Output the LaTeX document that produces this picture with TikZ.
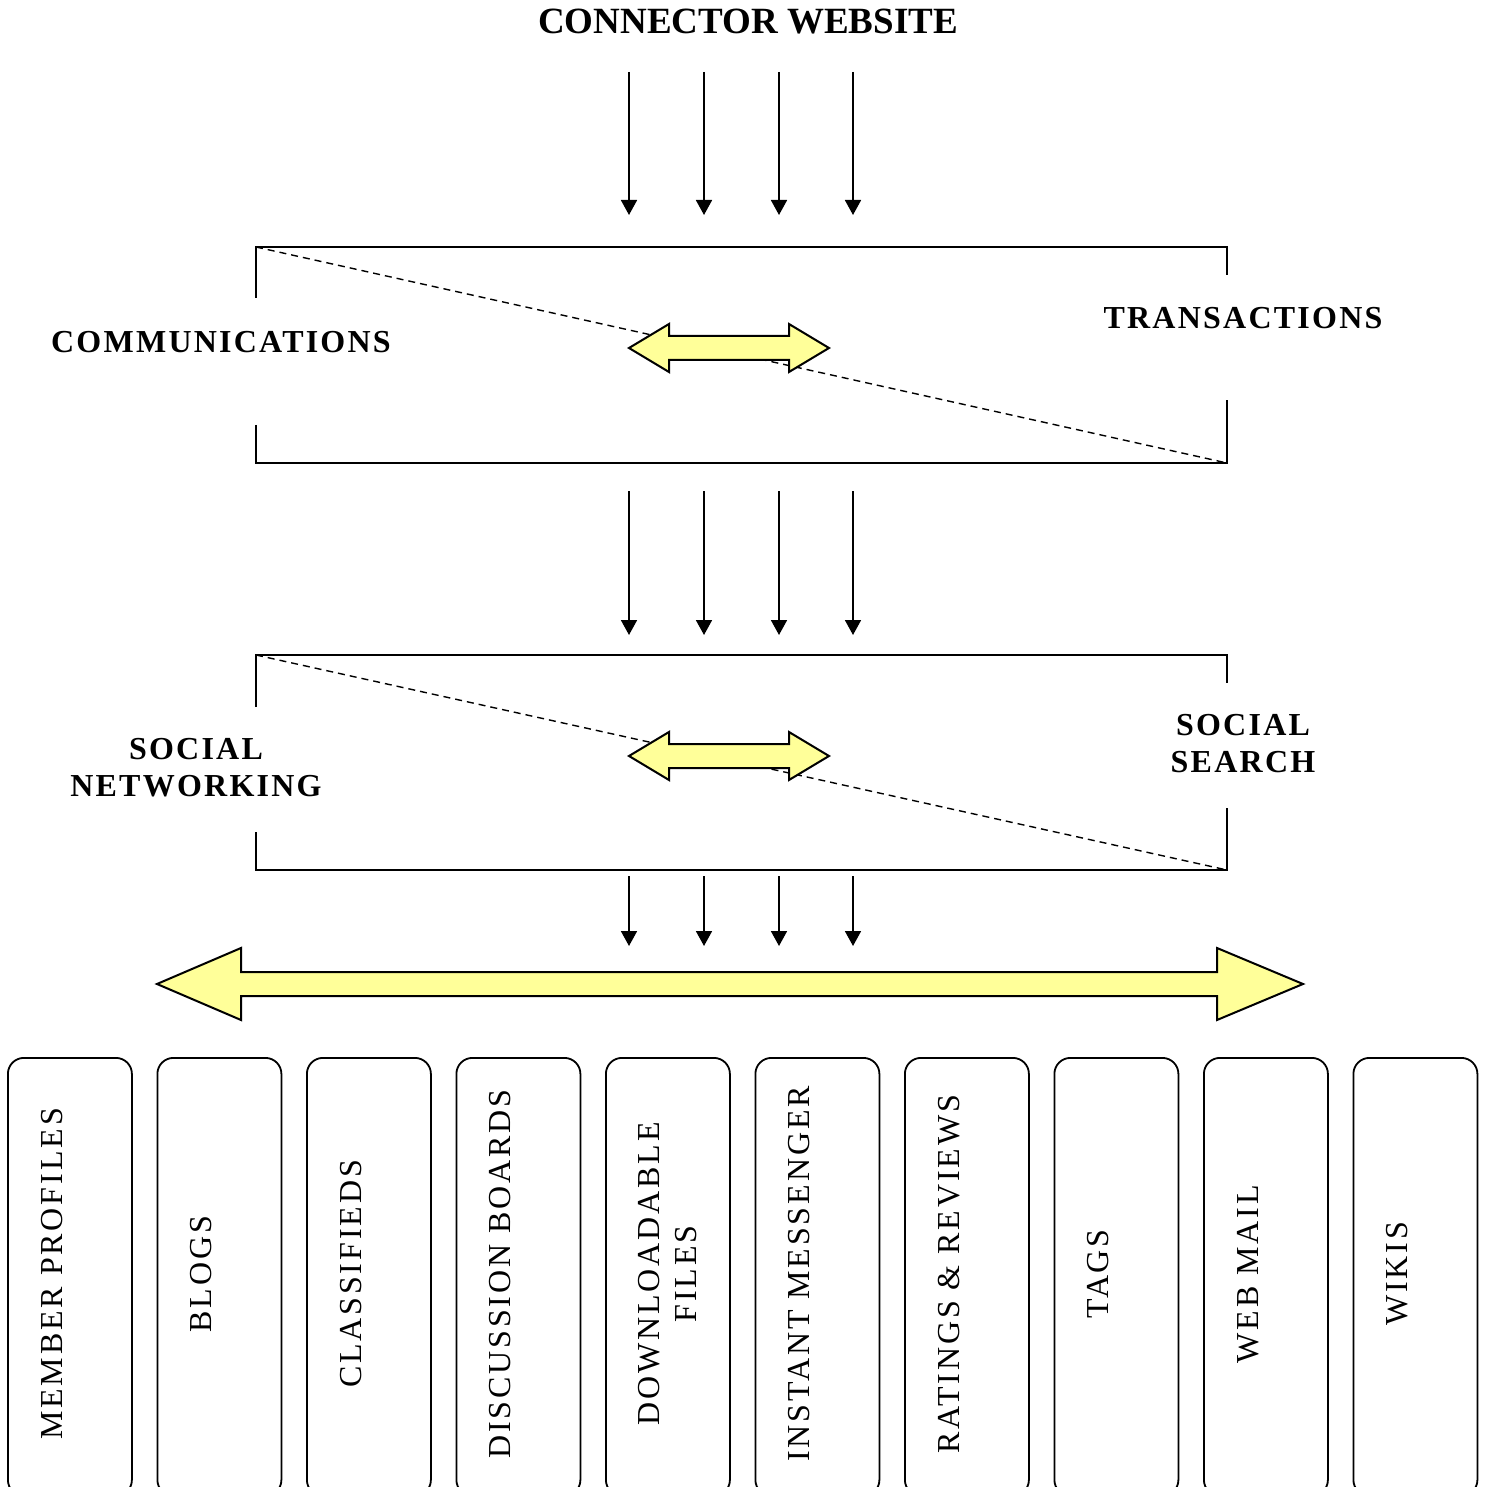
\documentclass[tikz,border=0pt]{standalone}
\usepackage{fontspec}
\setmainfont{Liberation Serif}
\newfontfamily\lblfont[LetterSpace=7]{Liberation Serif}
\newfontfamily\itemfont[LetterSpace=9]{Liberation Serif}
\usetikzlibrary{arrows.meta}
\definecolor{yellowfill}{HTML}{FFFF99}
\tikzset{
  flow/.style={line width=1.8pt, -{Triangle[width=16pt,length=15pt]}},
  frameline/.style={line width=2pt},
  diag/.style={line width=1.4pt, dash pattern=on 7pt off 5pt},
  yarrow/.style={fill=yellowfill, draw=black, line width=2pt, line join=miter},
  titlelabel/.style={font=\fontsize{37}{42}\selectfont\bfseries, inner sep=0pt},
  catlabel/.style={font=\fontsize{32}{37}\selectfont\lblfont\bfseries, align=center, inner sep=0pt},
  itembox/.style={draw, line width=1.8pt, rounded corners=16pt, minimum width=124pt, minimum height=438pt, anchor=north west, inner sep=0pt},
  itemtext/.style={font=\fontsize{32}{37}\selectfont\itemfont, rotate=90, align=center, inner sep=0pt},
}
\begin{document}
\begin{tikzpicture}[x=1pt,y=-1pt]
\clip (0,0) rectangle (1489,1487);
\fill[white] (0,0) rectangle (1489,1487);

% title
\node[titlelabel] (title) at (748,22) {CONNECTOR WEBSITE};

% arrow coordinates
\foreach \i/\x in {1/629,2/704,3/779,4/853}{
  \coordinate (ta\i) at (\x,72);
  \coordinate (tb\i) at (\x,215);
  \coordinate (ma\i) at (\x,491);
  \coordinate (mb\i) at (\x,635);
  \coordinate (ba\i) at (\x,876);
  \coordinate (bb\i) at (\x,946);
}
\foreach \i in {1,2,3,4}{
  \draw[flow] (ta\i) -- (tb\i);
  \draw[flow] (ma\i) -- (mb\i);
  \draw[flow] (ba\i) -- (bb\i);
}

% frame 1
\coordinate (f1tl) at (256,247);
\coordinate (f1br) at (1227,463);
\draw[diag] (f1tl) -- (f1br);
\draw[frameline] (256,298) -- (f1tl) -- (1227,247) -- (1227,275);
\draw[frameline] (256,425) -- (256,463) -- (f1br) -- (1227,400);
\draw[yarrow] (629,348) -- (669,324) -- (669,336) -- (789,336) -- (789,324) -- (829,348)
  -- (789,372) -- (789,360) -- (669,360) -- (669,372) -- cycle;
\node[catlabel] (comm) at (221,342) {COMMUNICATIONS};
\node[catlabel] (trans) at (1243,318) {TRANSACTIONS};

% frame 2
\coordinate (f2tl) at (256,655);
\coordinate (f2br) at (1227,870);
\draw[diag] (f2tl) -- (f2br);
\draw[frameline] (256,707) -- (f2tl) -- (1227,655) -- (1227,683);
\draw[frameline] (256,832) -- (256,870) -- (f2br) -- (1227,808);
\draw[yarrow] (629,756) -- (669,732) -- (669,744) -- (789,744) -- (789,732) -- (829,756)
  -- (789,780) -- (789,768) -- (669,768) -- (669,780) -- cycle;
\node[catlabel] (socnet) at (196,768) {SOCIAL\\NETWORKING};
\node[catlabel] (socsearch) at (1243,744) {SOCIAL\\SEARCH};

% big double arrow
\draw[yarrow] (157,984) -- (241,948) -- (241,972) -- (1217,972) -- (1217,948) -- (1303,984)
  -- (1217,1020) -- (1217,996) -- (241,996) -- (241,1020) -- cycle;

% item boxes
\foreach \i/\x in {1/7,2/156.5,3/306,4/455.5,5/605,6/754.5,7/904,8/1053.5,9/1203,10/1352.5}{
  \node[itembox] (box\i) at (\x,1057) {};
}
\node[itemtext] (t1) at ([xshift=-18pt]box1.center |- 0,1274) {MEMBER PROFILES};
\node[itemtext] (t2) at ([xshift=-18pt]box2.center |- 0,1274) {BLOGS};
\node[itemtext] (t3) at ([xshift=-18pt]box3.center |- 0,1274) {CLASSIFIEDS};
\node[itemtext] (t4) at ([xshift=-18pt]box4.center |- 0,1274) {DISCUSSION BOARDS};
\node[itemtext] (t5) at (box5.center |- 0,1274) {DOWNLOADABLE\\FILES};
\node[itemtext] (t6) at ([xshift=-18pt]box6.center |- 0,1274) {INSTANT MESSENGER};
\node[itemtext] (t7) at ([xshift=-18pt]box7.center |- 0,1274) {RATINGS \& REVIEWS};
\node[itemtext] (t8) at ([xshift=-18pt]box8.center |- 0,1274) {TAGS};
\node[itemtext] (t9) at ([xshift=-18pt]box9.center |- 0,1274) {WEB MAIL};
\node[itemtext] (t10) at ([xshift=-18pt]box10.center |- 0,1274) {WIKIS};
\end{tikzpicture}
\end{document}
